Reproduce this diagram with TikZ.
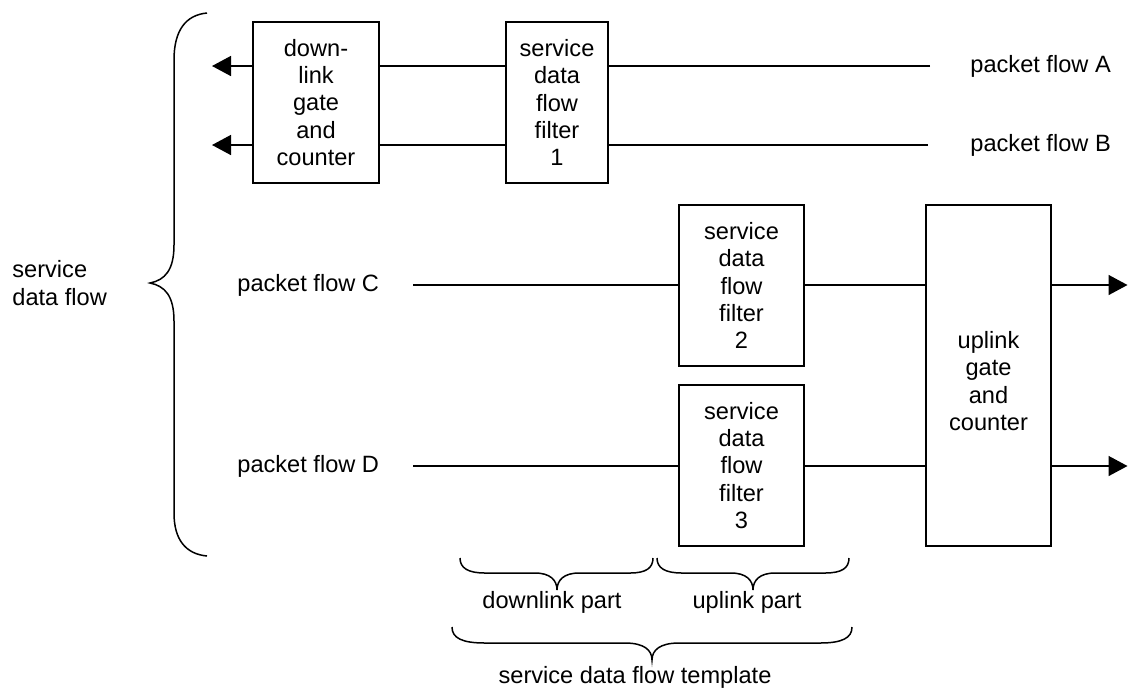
\documentclass[tikz,border=0pt]{standalone}
\usepackage{fontspec}
\setmainfont{Liberation Sans}
\usetikzlibrary{arrows.meta}
\begin{document}
\begin{tikzpicture}[x=0.5pt,y=-0.5pt,
  every node/.style={font=\fontsize{11.8}{13.6}\selectfont},
  box/.style={draw,line width=0.9pt,inner sep=0pt,outer sep=0pt,align=center},
  flow/.style={line width=0.75pt},
  arr/.style={line width=0.75pt,-{Triangle[length=9.5pt,width=10pt]}},
  brc/.style={line width=0.75pt},
  lbl/.style={inner sep=0pt,anchor=west}]
\useasboundingbox (0,0) rectangle (1128,687);
% boxes
\node[box,minimum width=63pt,minimum height=80.5pt] (dl) at (316,102.5) {down-\\link\\gate\\and\\counter};
\node[box,minimum width=51pt,minimum height=80.5pt] (f1) at (557,102.5) {service\\data\\flow\\filter\\1};
\node[box,minimum width=62.5pt,minimum height=80.5pt] (f2) at (741.5,285.5) {service\\data\\flow\\filter\\2};
\node[box,minimum width=62.5pt,minimum height=80.5pt] (f3) at (741.5,465.5) {service\\data\\flow\\filter\\3};
\node[box,minimum width=62.5pt,minimum height=170.5pt] (ul) at (988.5,375.5) {};
\node[inner sep=0pt,align=center] (ultxt) at (988.5,381) {uplink\\gate\\and\\counter};
% labels
\node[lbl] (pA) at (970,66) {packet flow A};
\node[lbl] (pB) at (970,145) {packet flow B};
\node[lbl] (pC) at (237,285) {packet flow C};
\node[lbl] (pD) at (237,466) {packet flow D};
\node[lbl,align=left] (sdf) at (12,283) {service\\data flow};
\node[inner sep=0pt] (dlp) at (552,602) {downlink part};
\node[inner sep=0pt] (ulp) at (747,602) {uplink part};
\node[inner sep=0pt] (tpl) at (635,677) {service data flow template};
% coordinates
\coordinate (aE) at (930,66);
\coordinate (bE) at (928,145);
\coordinate (aT) at (212,66);
\coordinate (bT) at (212,145);
\coordinate (cS) at (413,285);
\coordinate (dS) at (413,466);
\coordinate (cT) at (1127.5,285);
\coordinate (dT) at (1127.5,466);
% downlink flows
\draw[flow] (aE) -- (aE -| f1.east);
\draw[flow] (f1.west |- aE) -- (dl.east |- aE);
\draw[arr] (dl.west |- aE) -- (aT);
\draw[flow] (bE) -- (bE -| f1.east);
\draw[flow] (f1.west |- bE) -- (dl.east |- bE);
\draw[arr] (dl.west |- bE) -- (bT);
% uplink flows
\draw[flow] (cS) -- (cS -| f2.west);
\draw[flow] (f2.east |- cS) -- (ul.west |- cS);
\draw[arr] (ul.east |- cS) -- (cT);
\draw[flow] (dS) -- (dS -| f3.west);
\draw[flow] (f3.east |- dS) -- (ul.west |- dS);
\draw[arr] (ul.east |- dS) -- (dT);
% left brace
\draw[brc] (207,13) .. controls (186,15) and (174,30) .. (174,60) -- (174,245)
  .. controls (174,270) and (165,280) .. (150,283)
  .. controls (165,286) and (174,296) .. (174,321) -- (174,513)
  .. controls (174,540) and (186,554) .. (207,556);
% bottom braces
\draw[brc] (460,558) .. controls (460,568) and (468,573) .. (485,573) -- (535,573)
  .. controls (550,573) and (557,580) .. (557,590)
  .. controls (557,580) and (564,573) .. (579,573) -- (630,573)
  .. controls (646,573) and (653,568) .. (653,558);
\draw[brc] (657,558) .. controls (657,568) and (665,573) .. (682,573) -- (731,573)
  .. controls (746,573) and (753,580) .. (753,590)
  .. controls (753,580) and (760,573) .. (775,573) -- (825,573)
  .. controls (842,573) and (849,568) .. (849,558);
\draw[brc] (452,627) .. controls (452,638) and (462,643) .. (485,643) -- (625,643)
  .. controls (644,643) and (652,650) .. (652,660)
  .. controls (652,650) and (660,643) .. (679,643) -- (820,643)
  .. controls (842,643) and (852,638) .. (852,627);
\end{tikzpicture}
\end{document}
